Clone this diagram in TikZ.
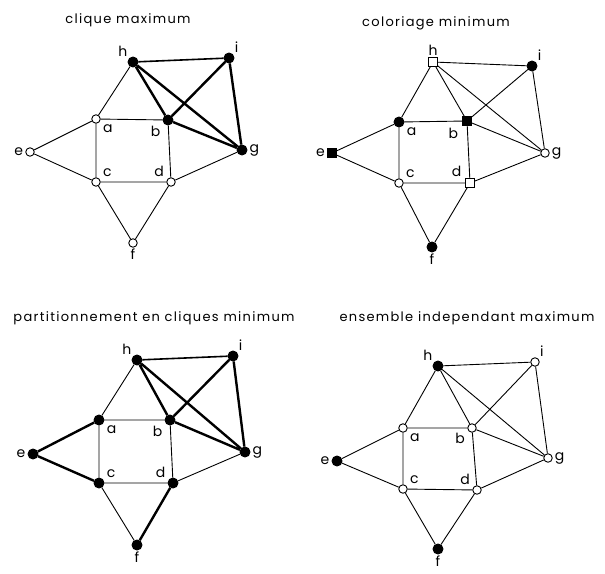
\documentclass[tikz,border=0pt]{standalone}
\usepackage{fontspec}
\setmainfont{Poppins}
\newfontfamily\ttlfont[LetterSpace=10]{Poppins}
\begin{document}
\begin{tikzpicture}[x=1pt,y=-1pt,
  wn/.style={circle,draw,fill=white,inner sep=0pt,minimum size=8.5pt,line width=0.9pt},
  bn/.style={circle,draw,fill=black,inner sep=0pt,minimum size=10pt,line width=0.9pt},
  wsq/.style={rectangle,draw,fill=white,inner sep=0pt,minimum size=8.5pt,line width=0.9pt},
  bsq/.style={rectangle,draw,fill=black,inner sep=0pt,minimum size=9pt,line width=0.9pt},
  ed/.style={line width=0.9pt},
  bd/.style={line width=2.4pt},
  md/.style={line width=1.6pt},
  lab/.style={font=\fontsize{14}{14}\selectfont,inner sep=1pt},
  flab/.style={font=\fontsize{14}{14}\selectfont,inner sep=0pt},
  ttl/.style={font=\ttlfont\fontsize{13}{13}\selectfont,inner sep=0pt},
  label distance=1pt
]
\useasboundingbox (0,0) rectangle (605,573);
% ---------- panel 1 : clique maximum
\node[ttl] (t1) at (128,20) {clique maximum};
\node[bn,label={[lab]above left:h}] (1h) at (133,62) {};
\node[bn,label={[lab]above right:i}] (1i) at (229,58) {};
\node[wn,label={[lab,xshift=2pt]below right:a}] (1a) at (96,119) {};
\node[bn,label={[lab,xshift=-2pt]below left:b}] (1b) at (168,120) {};
\node[bn,label={[lab]right:g}] (1g) at (242,150) {};
\node[wn,label={[lab]left:e}] (1e) at (30,152) {};
\node[wn,label={[lab,xshift=2pt]above right:c}] (1c) at (96,182) {};
\node[wn,label={[lab,xshift=-2pt]above left:d}] (1d) at (171,182) {};
\node[wn,label={[flab]below:f}] (1f) at (133,243) {};
\draw[ed] (1h)--(1a) (1a)--(1b) (1a)--(1e) (1a)--(1c) (1b)--(1d) (1e)--(1c) (1c)--(1d) (1d)--(1g) (1c)--(1f) (1d)--(1f);
\draw[md] (1h)--(1i);
\draw[bd] (1h)--(1b) (1h)--(1g) (1i)--(1b) (1i)--(1g) (1b)--(1g);
% ---------- panel 2 : coloriage minimum
\node[ttl] (t2) at (436,23) {coloriage minimum};
\node[wsq,label={[lab]above:h}] (2h) at (433,62) {};
\node[bn,label={[lab]above right:i}] (2i) at (532,66) {};
\node[bn,label={[lab,xshift=2pt]below right:a}] (2a) at (399,122) {};
\node[bsq,label={[lab,xshift=-2pt]below left:b}] (2b) at (467,121) {};
\node[wn,label={[lab]right:g}] (2g) at (545,153) {};
\node[bsq,label={[lab]left:e}] (2e) at (332,153) {};
\node[wn,label={[lab,xshift=2pt]above right:c}] (2c) at (399,183) {};
\node[wsq,label={[lab,xshift=-2pt]above left:d}] (2d) at (470,183) {};
\node[bn,label={[flab]below:f}] (2f) at (432,247) {};
\draw[ed] (2h)--(2i) (2h)--(2a) (2h)--(2b) (2h)--(2g) (2i)--(2b) (2i)--(2g) (2a)--(2b) (2a)--(2e) (2a)--(2c) (2b)--(2d) (2b)--(2g) (2e)--(2c) (2c)--(2d) (2d)--(2g) (2c)--(2f) (2d)--(2f);
% ---------- panel 3 : partitionnement en cliques minimum
\node[ttl] (t3) at (154,318) {partitionnement en cliques minimum};
\node[bn,label={[lab]above left:h}] (3h) at (137,360) {};
\node[bn,label={[lab]above right:i}] (3i) at (233,356) {};
\node[bn,label={[lab,xshift=2pt]below right:a}] (3a) at (99,420) {};
\node[bn,label={[lab,xshift=-2pt]below left:b}] (3b) at (170,420) {};
\node[bn,label={[lab]right:g}] (3g) at (245,452) {};
\node[bn,label={[lab]left:e}] (3e) at (33,454) {};
\node[bn,label={[lab,xshift=2pt]above right:c}] (3c) at (99,483) {};
\node[bn,label={[lab,xshift=-2pt]above left:d}] (3d) at (173,483) {};
\node[bn,label={[flab]below:f}] (3f) at (137,545) {};
\draw[ed] (3h)--(3a) (3a)--(3b) (3a)--(3c) (3b)--(3d) (3c)--(3d) (3d)--(3g) (3c)--(3f);
\draw[md] (3h)--(3i);
\draw[bd] (3h)--(3b) (3h)--(3g) (3i)--(3b) (3i)--(3g) (3b)--(3g) (3e)--(3a) (3e)--(3c) (3d)--(3f);
% ---------- panel 4 : ensemble independant maximum
\node[ttl] (t4) at (467,318) {ensemble independant maximum};
\node[bn,label={[lab]above left:h}] (4h) at (438,366) {};
\node[wn,label={[lab]above right:i}] (4i) at (535,362) {};
\node[wn,label={[lab,xshift=2pt]below right:a}] (4a) at (403,428) {};
\node[wn,label={[lab,xshift=-2pt]below left:b}] (4b) at (472,428) {};
\node[wn,label={[lab]right:g}] (4g) at (548,458) {};
\node[bn,label={[lab]left:e}] (4e) at (337,461) {};
\node[wn,label={[lab,xshift=2pt]above right:c}] (4c) at (403,489) {};
\node[wn,label={[lab,xshift=-2pt]above left:d}] (4d) at (477,490) {};
\node[bn,label={[flab]below:f}] (4f) at (438,549) {};
\draw[ed] (4h)--(4i) (4h)--(4a) (4h)--(4b) (4h)--(4g) (4i)--(4b) (4i)--(4g) (4a)--(4b) (4a)--(4e) (4a)--(4c) (4b)--(4d) (4b)--(4g) (4e)--(4c) (4c)--(4d) (4d)--(4g) (4c)--(4f) (4d)--(4f);
\end{tikzpicture}
\end{document}
